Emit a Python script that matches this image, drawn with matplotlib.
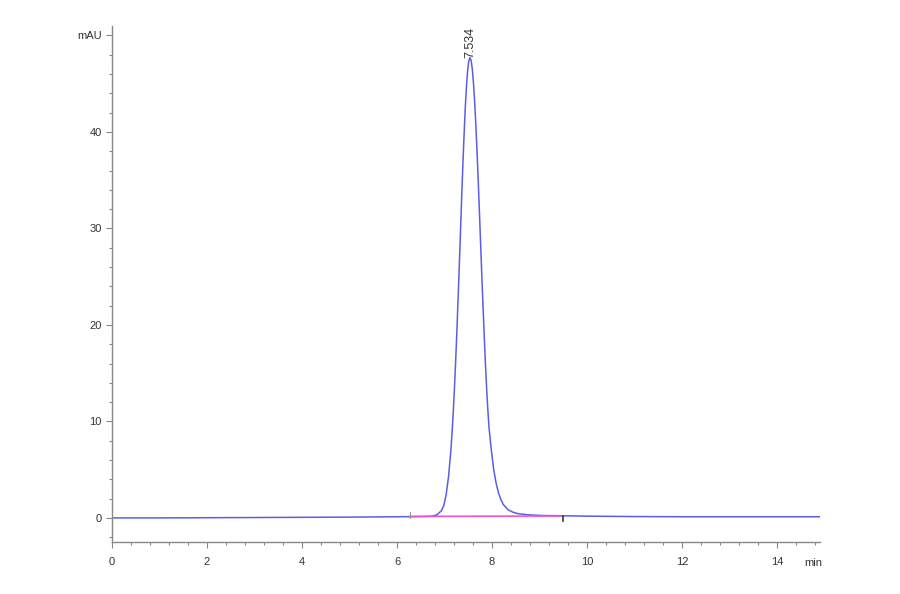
import matplotlib
matplotlib.use("Agg")
from matplotlib import pyplot as plt
from matplotlib.ticker import MultipleLocator
import matplotlib.transforms as mtransforms

# chromatogram trace: time (min), signal (mAU)
time = [0.0, 1.0, 2.0, 3.0, 4.0, 5.0, 5.5, 6.0, 6.3, 6.6,
        6.734, 6.834, 6.934, 6.984, 7.034, 7.084, 7.134, 7.159, 7.184,
        7.209, 7.234, 7.259, 7.284, 7.309, 7.334, 7.359, 7.384, 7.409,
        7.434, 7.459, 7.484, 7.509, 7.534,
        7.559, 7.584, 7.609, 7.634, 7.659, 7.684, 7.709, 7.734, 7.759,
        7.784, 7.809, 7.834, 7.859, 7.884, 7.909, 7.934, 7.984, 8.034,
        8.084, 8.134, 8.184, 8.234, 8.334, 8.434, 8.534, 8.734, 9.034,
        9.5, 10.0, 11.0, 12.0, 13.0, 14.0, 14.9]
signal = [0.0, 0.0, 0.02, 0.04, 0.06, 0.08, 0.1, 0.12, 0.13, 0.15,
          0.18, 0.3, 0.75, 1.3, 2.45, 4.3, 7.1, 9.0, 11.1,
          13.6, 16.4, 19.4, 22.7, 26.1, 29.6, 33.2, 36.5, 39.6,
          42.4, 44.6, 46.3, 47.35, 47.7,
          47.4, 46.5, 45.0, 43.0, 40.6, 37.8, 34.8, 31.6, 28.3,
          25.0, 21.9, 18.9, 16.0, 13.5, 11.3, 9.4, 7.0, 5.0,
          3.6, 2.6, 1.9, 1.4, 0.85, 0.6, 0.45, 0.33, 0.25,
          0.22, 0.18, 0.14, 0.12, 0.12, 0.12, 0.12]

# integration baseline
base_t = [6.27, 9.5]
base_y = [0.15, 0.2]

peak_rt = 7.534
peak_h = 47.7

yticks = [0, 10, 20, 30, 40, 50]
ylabels = ["0", "10", "20", "30", "40", "mAU"]
xticks = [0, 2, 4, 6, 8, 10, 12, 14]

plt.rcParams["font.family"] = ["Liberation Sans", "DejaVu Sans"]

fig = plt.figure(figsize=(9, 5.94), dpi=100)
ax = fig.add_axes([0.1244, 0.0875, 0.7867, 0.869])

ax.plot(time, signal, color="#5c5ce8", linewidth=1.1)
ax.plot(base_t, base_y, color="#ee55cc", linewidth=1.2)
ax.plot([base_t[0], base_t[0]], [0.0, 0.6], color="#999999", linewidth=0.8)
ax.plot([base_t[1], base_t[1]], [-0.3, 0.2], color="#333333", linewidth=1.2)

ax.text(peak_rt, peak_h, "7.534", rotation=90, ha="center", va="bottom",
        fontsize=9, color="#333333")

ax.set_xlim(0, 14.9)
ax.set_ylim(-2.5, 51)

for side in ["top", "right"]:
    ax.spines[side].set_visible(False)
for side in ["left", "bottom"]:
    ax.spines[side].set_color("#888888")
    ax.spines[side].set_linewidth(1.0)

ax.set_xticks(xticks)
ax.xaxis.set_minor_locator(MultipleLocator(0.4))
ax.set_yticks(yticks)
ax.set_yticklabels(ylabels)
ax.yaxis.set_minor_locator(MultipleLocator(2))

ax.tick_params(axis="both", which="major", length=4, width=0.8,
               color="#888888", labelsize=8, labelcolor="#333333")
ax.tick_params(axis="both", which="minor", length=2, width=0.8,
               color="#888888")
ax.tick_params(axis="x", which="major", pad=7)

trans = mtransforms.blended_transform_factory(ax.transData, ax.transAxes)
ax.text(14.75, -0.03, "min", transform=trans, ha="center", va="top",
        fontsize=8, color="#333333")

fig.savefig("out.png", dpi=100)
